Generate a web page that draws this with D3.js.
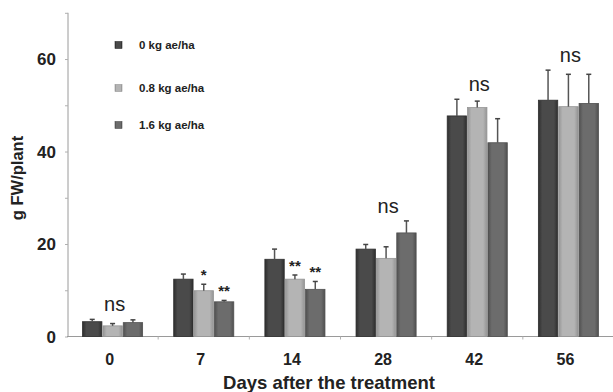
<!DOCTYPE html>
<html><head><meta charset="utf-8">
<script src="https://cdn.jsdelivr.net/npm/d3@7"></script>
<style>html,body{margin:0;padding:0;background:#fff;}svg{display:block;}</style>
</head><body>
<svg id="c" width="613" height="392"></svg>
<script>
const days = ["0", "7", "14", "28", "42", "56"];
const seriesNames = ["0 kg ae/ha", "0.8 kg ae/ha", "1.6 kg ae/ha"];
const vals0 = [3.2, 12.4, 16.7, 18.9, 47.7, 51.1];
const vals08 = [2.3, 9.9, 12.4, 16.9, 49.5, 49.7];
const vals16 = [3.0, 7.5, 10.2, 22.4, 41.9, 50.4];
const err0 = [0.5, 1.1, 2.2, 1.0, 3.6, 6.5];
const err08 = [0.5, 1.4, 0.9, 2.5, 1.4, 7.0];
const err16 = [0.6, 0.3, 1.7, 2.6, 5.2, 6.3];
const groupLabels = ["ns", "", "", "ns", "ns", "ns"];
const barLabels08 = ["", "*", "**", "", "", ""];
const barLabels16 = ["", "**", "**", "", "", ""];
const yTicks = [0, 10, 20, 30, 40, 50, 60, 70];
const yLabelTicks = [0, 20, 40, 60];

const values = [vals0, vals08, vals16];
const errs = [err0, err08, err16];
const barLabels = [days.map(()=>""), barLabels08, barLabels16];
const colors = [["#2e2e2e","#4a4a4a"],["#959595","#b4b4b4"],["#505050","#6c6c6c"]];

const svg = d3.select("#c");
const font = "'Liberation Sans', Arial, sans-serif";
const x0 = d3.scaleBand().domain(days).range([67, 614]).paddingInner(0.33).paddingOuter(0.165);
const x1 = d3.scaleBand().domain([0,1,2]).range([0, x0.bandwidth()]);
const y = d3.scaleLinear().domain([0, 70]).range([336.5, 12.8]);

const defs = svg.append("defs");
colors.forEach((c,i)=>{
  const g = defs.append("linearGradient").attr("id","g"+i).attr("x1","0").attr("x2","1").attr("y1","0").attr("y2","0");
  g.append("stop").attr("offset","0").attr("stop-color",c[0]);
  g.append("stop").attr("offset","0.2").attr("stop-color",c[1]);
  g.append("stop").attr("offset","0.8").attr("stop-color",c[1]);
  g.append("stop").attr("offset","1").attr("stop-color",c[0]);
});

// axes
const yAxis = svg.append("g").attr("transform","translate(68,0)")
  .call(d3.axisLeft(y).tickValues(yTicks).tickSize(3).tickFormat(""));
yAxis.select(".domain").attr("stroke","#9a9a9a").attr("d","M0,"+y(70)+"V"+y(0));
yAxis.selectAll(".tick line").attr("stroke","#b0b0b0");
svg.append("g").selectAll("text").data(yLabelTicks).join("text")
  .attr("x", 56).attr("y", d=>y(d)).attr("dy","0.36em")
  .attr("text-anchor","end").attr("font-family",font).attr("font-weight","bold")
  .attr("font-size",17).attr("fill","#222").text(d=>d);

const xAxis = svg.append("g").attr("transform","translate(0,"+y(0)+")");
xAxis.append("line").attr("x1",67).attr("x2",613).attr("stroke","#9a9a9a");
const bounds = days.slice(1).map(d=>x0(d) - x0.step()*x0.paddingInner()/2);
xAxis.selectAll(".bt").data(bounds).join("line").attr("class","bt")
  .attr("x1",d=>d).attr("x2",d=>d).attr("y1",0).attr("y2",3).attr("stroke","#b0b0b0");
svg.append("g").selectAll("text").data(days).join("text")
  .attr("x", d=>x0(d)+x0.bandwidth()/2-3).attr("y", 365)
  .attr("text-anchor","middle").attr("font-family",font).attr("font-weight","bold")
  .attr("font-size",16).attr("fill","#222").text(d=>d);

svg.append("text").attr("x",329).attr("y",389).attr("text-anchor","middle")
  .attr("font-family",font).attr("font-weight","bold").attr("font-size",18.5).attr("fill","#222")
  .text("Days after the treatment");
svg.append("text").attr("transform","translate(23,178) rotate(-90)").attr("text-anchor","middle")
  .attr("font-family",font).attr("font-weight","bold").attr("font-size",16.5).attr("fill","#222")
  .text("g FW/plant");

// bars
const groups = svg.append("g").selectAll("g").data(days).join("g")
  .attr("transform", d=>"translate("+x0(d)+",0)");
values.forEach((vals, s)=>{
  groups.append("rect")
    .attr("x", x1(s)+0.5).attr("width", x1.bandwidth()-1)
    .attr("y", (d,i)=>y(vals[i])).attr("height",(d,i)=>y(0)-y(vals[i]))
    .attr("fill","url(#g"+s+")").attr("stroke", colors[s][0]).attr("stroke-width",0.8);
  groups.append("line")
    .attr("x1", x1(s)+x1.bandwidth()/2).attr("x2", x1(s)+x1.bandwidth()/2)
    .attr("y1",(d,i)=>y(vals[i])).attr("y2",(d,i)=>y(vals[i]+errs[s][i]))
    .attr("stroke","#555").attr("stroke-width",1.5);
  groups.append("line")
    .attr("x1", x1(s)+x1.bandwidth()/2-2.5).attr("x2", x1(s)+x1.bandwidth()/2+2.5)
    .attr("y1",(d,i)=>y(vals[i]+errs[s][i])).attr("y2",(d,i)=>y(vals[i]+errs[s][i]))
    .attr("stroke","#444").attr("stroke-width",1.5);
  groups.append("text")
    .attr("x", x1(s)+x1.bandwidth()/2).attr("y",(d,i)=>y(vals[i]+errs[s][i])-4)
    .attr("text-anchor","middle").attr("font-family",font).attr("font-weight","bold")
    .attr("font-size",15).attr("fill","#222").text((d,i)=>barLabels[s][i]);
});
groups.append("text")
  .attr("x", x0.bandwidth()/2+2)
  .attr("y",(d,i)=>y(d3.max(values,(v,s)=>v[i]+errs[s][i]))-8)
  .attr("text-anchor","middle").attr("font-family",font)
  .attr("font-size",20).attr("fill","#222").text((d,i)=>groupLabels[i]);

// legend
const lg = svg.append("g").selectAll("g").data(seriesNames).join("g")
  .attr("transform",(d,i)=>"translate(115,"+[45,88,125][i]+")");
lg.append("rect").attr("x",0).attr("y",-3.5).attr("width",7).attr("height",7)
  .attr("fill",(d,i)=>"url(#g"+i+")").attr("stroke",(d,i)=>colors[i][0]).attr("stroke-width",0.6);
lg.append("text").attr("x",24).attr("y",0).attr("dy","0.36em")
  .attr("font-family",font).attr("font-weight","bold").attr("font-size",11.5).attr("fill","#222")
  .text(d=>d);
</script>
</body></html>
